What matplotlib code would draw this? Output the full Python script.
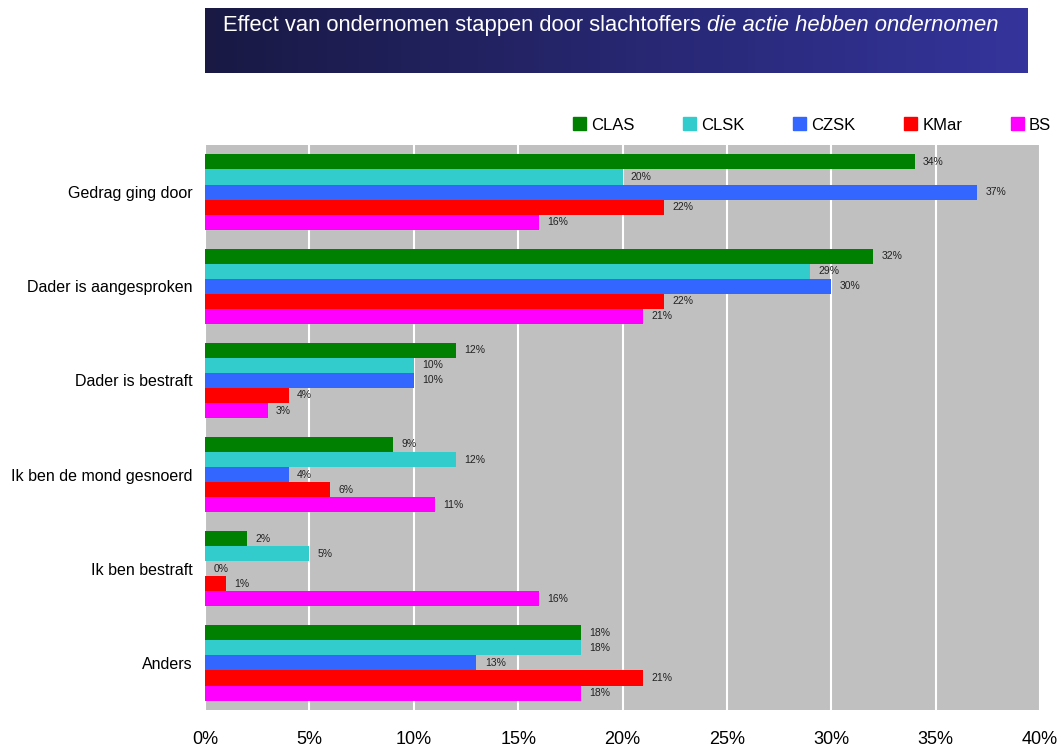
import numpy as np
import matplotlib.pyplot as plt
from matplotlib.patches import Patch
from matplotlib.colors import LinearSegmentedColormap

categories = ["Gedrag ging door", "Dader is aangesproken", "Dader is bestraft",
              "Ik ben de mond gesnoerd", "Ik ben bestraft", "Anders"]
series = ["CLAS", "CLSK", "CZSK", "KMar", "BS"]
clas = [34, 32, 12, 9, 2, 18]
clsk = [20, 29, 10, 12, 5, 18]
czsk = [37, 30, 10, 4, 0, 13]
kmar = [22, 22, 4, 6, 1, 21]
bs = [16, 21, 3, 11, 16, 18]
colors = ["#008000", "#33CCCC", "#3366FF", "#FF0000", "#FF00FF"]
xticks = [0, 5, 10, 15, 20, 25, 30, 35, 40]

values = [clas, clsk, czsk, kmar, bs]
font = "Liberation Sans"

fig = plt.figure(figsize=(10.62, 7.47), dpi=100)

# title box with gradient
tax = fig.add_axes([205 / 1062, 1 - 73 / 747, 823 / 1062, 65 / 747])
grad = np.linspace(0, 1, 256).reshape(1, -1)
cmap = LinearSegmentedColormap.from_list("tb", ["#191944", "#34349C"])
tax.imshow(grad, aspect="auto", cmap=cmap, extent=[0, 1, 0, 1])
tax.set_xlim(0, 1)
tax.set_ylim(0, 1)
tax.axis("off")
t1 = tax.text(18 / 823, 0.73, "Effect van ondernomen stappen door slachtoffers ",
              color="white", fontsize=15.8, va="center", ha="left", family=font)
fig.canvas.draw()
bb = t1.get_window_extent()
tb = tax.get_window_extent()
x_end = (bb.x1 - tb.x0) / tb.width
tax.text(x_end, 0.73, "die actie hebben ondernomen", color="white", fontsize=15.8,
         style="italic", va="center", ha="left", family=font)

ax = fig.add_axes([205 / 1062, 1 - 710 / 747, 835 / 1062, 565 / 747])
ax.set_facecolor("#C0C0C0")
h = 0.16
y = np.arange(len(categories))
for i, (name, vals, c) in enumerate(zip(series, values, colors)):
    pos = y - 0.4 + h / 2 + i * h
    ax.barh(pos, vals, height=h, color=c, label=name, zorder=2)
    for p, v in zip(pos, vals):
        ax.text(v + 0.4, p, f"{v}%", va="center", ha="left", fontsize=7.5,
                color="#222222", zorder=3, family=font)

ax.set_xlim(0, 40)
ax.set_ylim(len(categories) - 0.5, -0.5)
ax.set_xticks(xticks)
ax.set_xticklabels([f"{t}%" for t in xticks], fontsize=13, family=font)
ax.set_yticks(y)
ax.set_yticklabels(categories, fontsize=11.5, family=font)
ax.tick_params(axis="both", length=0)
ax.tick_params(axis="x", pad=15)
ax.tick_params(axis="y", pad=9)
ax.xaxis.grid(True, color="white", linewidth=1.5, zorder=1)
ax.set_axisbelow(True)
for s in ax.spines.values():
    s.set_visible(False)

handles = [Patch(color=c, label=s) for s, c in zip(series, colors)]
fig.legend(handles=handles, loc="center right", ncol=5,
           bbox_to_anchor=(1066 / 1062, 1 - 125 / 747), frameon=False,
           fontsize=12, handlelength=0.8, handleheight=0.8, handletextpad=0.3,
           columnspacing=2.9, prop={"family": font, "size": 12})

fig.savefig("out.png", dpi=100)
